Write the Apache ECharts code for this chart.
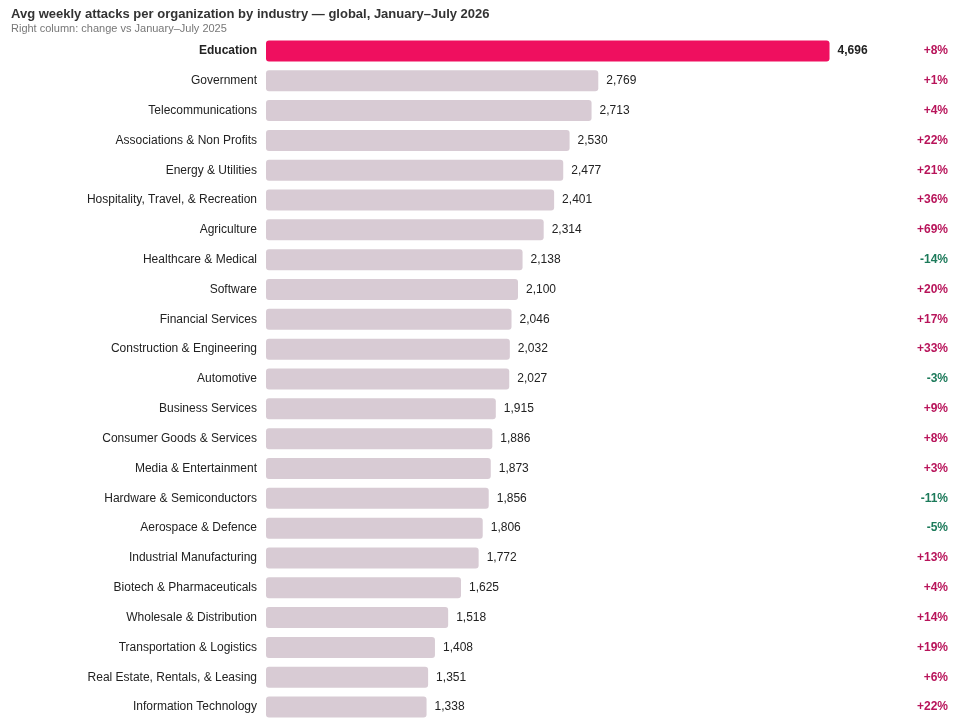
<!DOCTYPE html>
<html lang="en">
<head>
<meta charset="UTF-8">
<title>Avg weekly attacks per organization by industry</title>
<script src="https://cdn.jsdelivr.net/npm/echarts@6/dist/echarts.min.js"></script>
<style>
  html, body { margin: 0; padding: 0; background: #fff; }
  #chart { width: 964px; height: 727px; }
</style>
</head>
<body>
<div id="chart"></div>
<script>
// industries, top to bottom
var industries = [
  'Education', 'Government', 'Telecommunications', 'Associations & Non Profits',
  'Energy & Utilities', 'Hospitality, Travel, & Recreation', 'Agriculture',
  'Healthcare & Medical', 'Software', 'Financial Services', 'Construction & Engineering',
  'Automotive', 'Business Services', 'Consumer Goods & Services', 'Media & Entertainment',
  'Hardware & Semiconductors', 'Aerospace & Defence', 'Industrial Manufacturing',
  'Biotech & Pharmaceuticals', 'Wholesale & Distribution', 'Transportation & Logistics',
  'Real Estate, Rentals, & Leasing', 'Information Technology'
];
var attacks = [4696, 2769, 2713, 2530, 2477, 2401, 2314, 2138, 2100, 2046, 2032,
  2027, 1915, 1886, 1873, 1856, 1806, 1772, 1625, 1518, 1408, 1351, 1338];
// change vs Jan-Jul 2025, percent
var changes = [8, 1, 4, 22, 21, 36, 69, -14, 20, 17, 33, -3, 9, 8, 3, -11, -5, 13, 4, 14, 19, 6, 22];

var FONT = '"Liberation Sans", Arial, sans-serif';

function fmt(n) {
  return String(n).replace(/\B(?=(\d{3})+(?!\d))/g, ',');
}

var changeLabels = changes.map(function (c) { return (c > 0 ? '+' : '') + c + '%'; });

var chart = echarts.init(document.getElementById('chart'));

chart.setOption({
  animation: false,
  textStyle: { fontFamily: FONT },
  title: {
    text: 'Avg weekly attacks per organization by industry \u2014 global, January\u2013July 2026',
    subtext: 'Right column: change vs January\u2013July 2025',
    left: 6, top: 3, itemGap: 2,
    textStyle: { fontSize: 13, fontWeight: 'bold', color: '#333', fontFamily: FONT },
    subtextStyle: { fontSize: 11, color: '#777', fontFamily: FONT }
  },
  grid: { left: 266, right: 98, top: 36, bottom: 5 },
  xAxis: {
    type: 'value', min: 0, max: 5000, show: false
  },
  yAxis: [{
    type: 'category', data: industries, inverse: true,
    axisLine: { show: false }, axisTick: { show: false },
    axisLabel: {
      margin: 9, fontSize: 12, color: '#222', fontFamily: FONT,
      formatter: function (v) { return v === 'Education' ? '{b|' + v + '}' : v; },
      rich: { b: { fontWeight: 'bold', fontSize: 12, color: '#222', fontFamily: FONT } }
    }
  }, {
    type: 'category', data: changeLabels, inverse: true, position: 'right',
    axisLine: { show: false }, axisTick: { show: false },
    axisLabel: {
      margin: 82, align: 'right', fontSize: 12, fontWeight: 'bold', fontFamily: FONT,
      formatter: function (v) { return v.charAt(0) === '-' ? '{n|' + v + '}' : '{p|' + v + '}'; },
      rich: {
        p: { color: '#b8145a', fontWeight: 'bold', fontSize: 12, fontFamily: FONT },
        n: { color: '#1c7a5a', fontWeight: 'bold', fontSize: 12, fontFamily: FONT }
      }
    }
  }],
  series: [{
    type: 'bar',
    yAxisIndex: 0,
    barWidth: 21,
    data: attacks.map(function (v, i) {
      return {
        value: v,
        itemStyle: { color: i === 0 ? '#ef0f5f' : '#d8cbd4', borderRadius: 3 },
        label: i === 0 ? { fontWeight: 'bold' } : {}
      };
    }),
    label: {
      show: true, position: 'right', distance: 8,
      fontSize: 12, color: '#222', fontFamily: FONT,
      formatter: function (p) { return fmt(p.value); }
    }
  }]
});
</script>
</body>
</html>
